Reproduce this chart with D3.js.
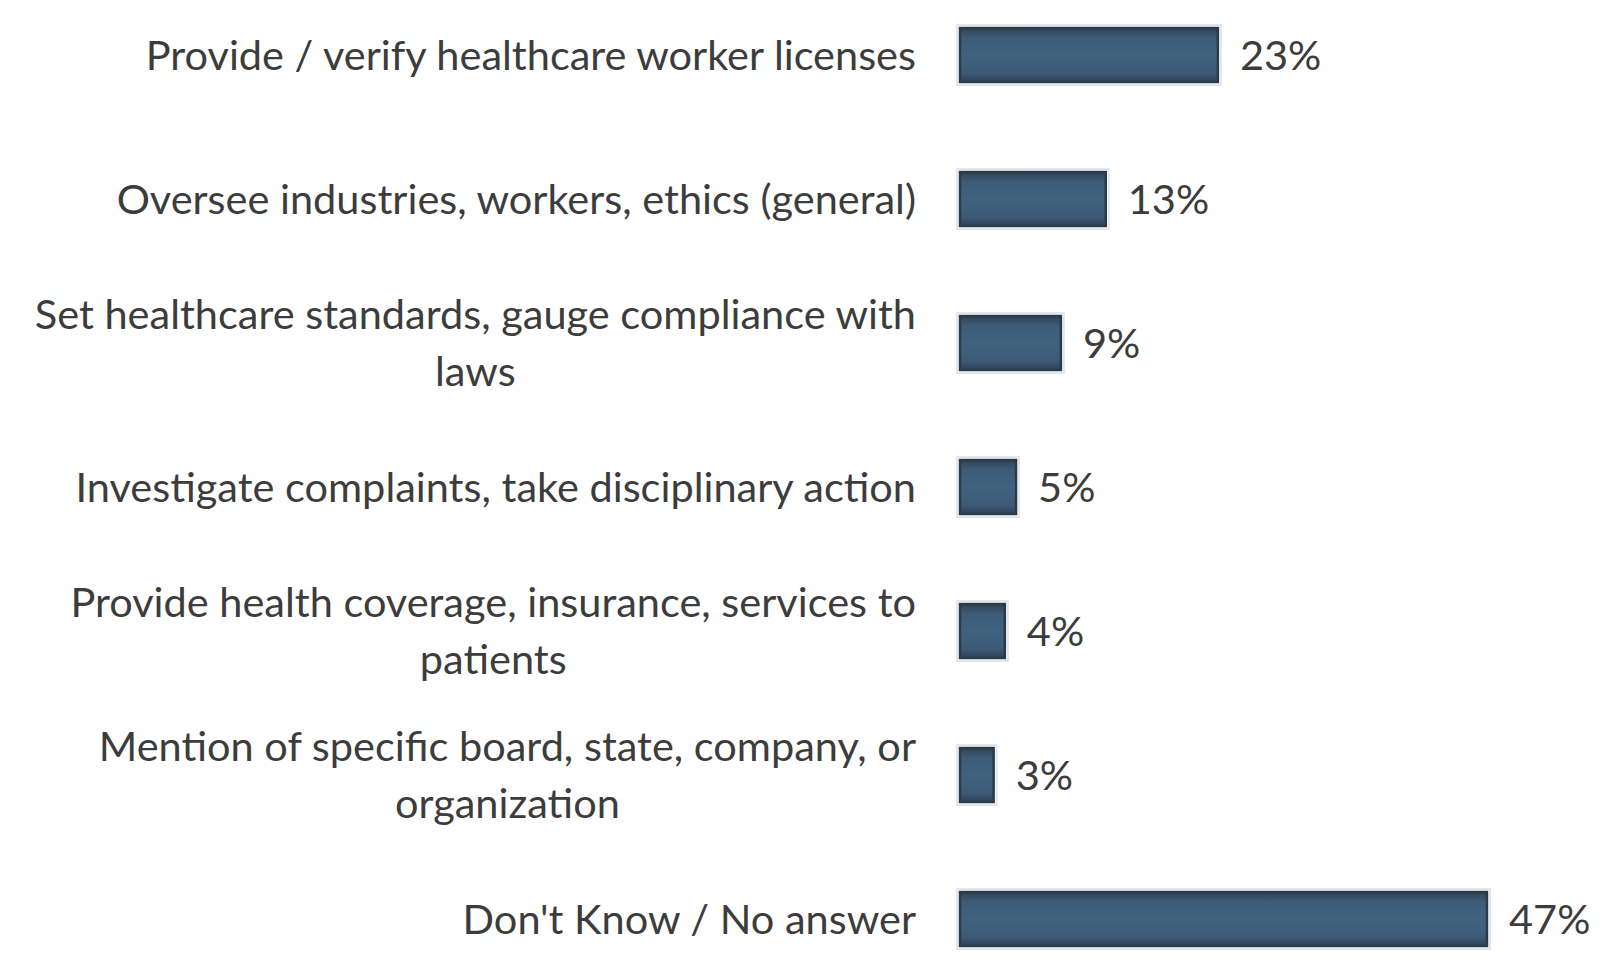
<!DOCTYPE html>
<html>
<head>
<meta charset="utf-8">
<script src="https://cdn.jsdelivr.net/npm/d3@7/dist/d3.min.js"></script>
<style>
  html, body { margin: 0; padding: 0; background: #ffffff; }
  svg { display: block; }
</style>
</head>
<body>
<svg id="chart" width="1619" height="969"></svg>
<script>
// Survey responses: what a licensing board does
const categories = [
  "Provide / verify healthcare worker licenses",
  "Oversee industries, workers, ethics (general)",
  "Set healthcare standards, gauge compliance with laws",
  "Investigate complaints, take disciplinary action",
  "Provide health coverage, insurance, services to patients",
  "Mention of specific board, state, company, or organization",
  "Don't Know / No answer"
];
const values = [23, 13, 9, 5, 4, 3, 47];
const valueLabels = ["23%", "13%", "9%", "5%", "4%", "3%", "47%"];

const W = 1619, H = 969;
const barLeft = 960, barRightMax = 1487;
const labelRight = 916;
const wrapWidth = 912;
const fontFamily = "Lato, 'Open Sans', sans-serif";
const fontSize = 41.5;
const lineHeight = 57;

const svg = d3.select("#chart");

const x = d3.scaleLinear()
  .domain([0, 47])
  .range([barLeft, barRightMax]);

// 144px per row, 54px bars
const y = d3.scaleBand()
  .domain(categories)
  .range([-17, -17 + 144 * 7])
  .paddingInner(0.625)
  .paddingOuter(0.3125);

const defs = svg.append("defs");
const grad = defs.append("linearGradient")
  .attr("id", "barShade")
  .attr("x1", 0).attr("y1", 0).attr("x2", 0).attr("y2", 1);
grad.append("stop").attr("offset", "0%").attr("stop-color", "#2f4354");
grad.append("stop").attr("offset", "18%").attr("stop-color", "#3d5b77");
grad.append("stop").attr("offset", "50%").attr("stop-color", "#40627f");
grad.append("stop").attr("offset", "82%").attr("stop-color", "#3d5b77");
grad.append("stop").attr("offset", "100%").attr("stop-color", "#2f4354");

// Bars
const bars = svg.append("g").attr("class", "bars");
bars.selectAll("rect.halo")
  .data(values)
  .join("rect")
  .attr("class", "halo")
  .attr("x", x(0) - 3)
  .attr("y", (d, i) => y(categories[i]) - 3)
  .attr("width", d => x(d) - x(0) + 6)
  .attr("height", y.bandwidth() + 6)
  .attr("fill", "none")
  .attr("stroke", "#dfe8ef")
  .attr("stroke-width", 2);

bars.selectAll("rect.bar")
  .data(values)
  .join("rect")
  .attr("class", "bar")
  .attr("x", x(0))
  .attr("y", (d, i) => y(categories[i]))
  .attr("width", d => x(d) - x(0))
  .attr("height", y.bandwidth())
  .attr("fill", "url(#barShade)")
  .attr("stroke", "#2c3a47")
  .attr("stroke-width", 2.5);

// Value labels
svg.append("g").selectAll("text")
  .data(values)
  .join("text")
  .attr("x", d => x(d) + 22)
  .attr("y", (d, i) => y(categories[i]) + y.bandwidth() / 2)
  .attr("dy", "0.36em")
  .attr("font-family", fontFamily)
  .attr("font-size", fontSize)
  .attr("fill", "#3c3c3c")
  .text((d, i) => valueLabels[i]);

// Category labels, wrapped and centred within a right-aligned block
const labels = svg.append("g");
categories.forEach((cat, i) => {
  const t = labels.append("text")
    .attr("font-family", fontFamily)
    .attr("font-size", fontSize)
    .attr("fill", "#3c3c3c")
    .attr("text-anchor", "middle");
  const words = cat.split(" ");
  const lines = [];
  let line = [];
  const probe = t.append("tspan");
  words.forEach(w => {
    const trial = line.concat(w).join(" ");
    probe.text(trial);
    if (probe.node().getComputedTextLength() > wrapWidth && line.length) {
      lines.push(line.join(" "));
      line = [w];
    } else {
      line.push(w);
    }
  });
  lines.push(line.join(" "));
  let maxW = 0;
  lines.forEach(l => {
    probe.text(l);
    maxW = Math.max(maxW, probe.node().getComputedTextLength());
  });
  probe.remove();
  const cx = labelRight - maxW / 2;
  const cy = y(cat) + y.bandwidth() / 2;
  const startY = cy - (lines.length - 1) * lineHeight / 2;
  lines.forEach((l, k) => {
    t.append("tspan")
      .attr("x", cx)
      .attr("y", startY + k * lineHeight)
      .attr("dy", "0.36em")
      .text(l);
  });
});
</script>
</body>
</html>
